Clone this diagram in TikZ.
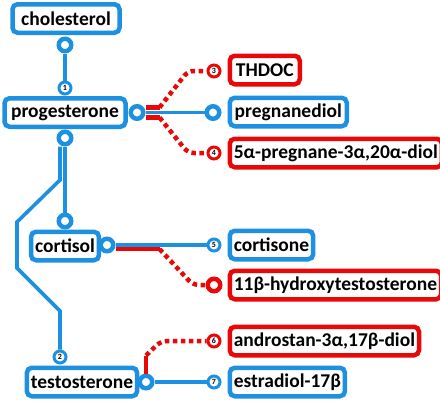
\documentclass[tikz,border=0pt]{standalone}
\usepackage{fontspec}
\setmainfont{Carlito}
\usepackage{tikz}

\definecolor{metroblue}{RGB}{30,144,225}
\definecolor{metrored}{RGB}{232,8,8}

\begin{document}
\begin{tikzpicture}[x=1pt,y=-1pt,
	box/.style={draw,line width=4.5pt,rounded corners=5pt,fill=white,inner xsep=4pt,inner ysep=2pt,
		minimum height=28.5pt,font=\fontsize{19.5}{21}\selectfont\bfseries},
	ring/.style={circle,draw,line width=4.5pt,fill=white,minimum size=12.5pt,inner sep=0pt},
	num/.style={circle,draw,line width=3pt,fill=white,minimum size=12pt,inner sep=0pt,
		font=\fontsize{8}{8}\selectfont\bfseries},
	bline/.style={metroblue,line width=3.6pt},
	rline/.style={metrored,line width=4.5pt},
	rdots/.style={metrored,line width=4.5pt,dash pattern=on 4.5pt off 3.5pt,rounded corners=6pt}]
	%\draw[help lines,step=20] (0,0) grid (440,402);
	\useasboundingbox (0,0) rectangle (440,402);

	% left column
	\node[box,draw=metroblue,minimum width=107pt] (chol) at (66,18.5) {cholesterol};
	\node[box,draw=metroblue,minimum width=121pt] (prog) at (65,112.5) {progesterone};
	\node[box,draw=metroblue,minimum width=65pt] (cort) at (65,246) {cortisol};
	\node[box,draw=metroblue,minimum width=105pt] (test) at (82,382) {testosterone};

	% right column
	\node[box,draw=metrored,anchor=west,minimum width=70pt] (thdoc) at (227.5,70) {THDOC};
	\node[box,draw=metroblue,anchor=west,minimum width=117pt] (pdiol) at (227.5,112) {pregnanediol};
	\node[box,draw=metrored,anchor=west,minimum width=207pt] (adiol) at (227.5,153) {5α-pregnane-3α,20α-diol};
	\node[box,draw=metroblue,anchor=west,minimum width=83pt] (cone) at (227.5,245) {cortisone};
	\node[box,draw=metrored,anchor=west,minimum width=207pt] (hydro) at (227.5,285) {11β-hydroxytestosterone};
	\node[box,draw=metrored,anchor=west,minimum width=188pt] (andro) at (227.5,341) {androstan-3α,17β-diol};
	\node[box,draw=metroblue,anchor=west,minimum width=112pt] (estra) at (227.5,382) {estradiol-17β};

	% stations
	\node[ring,draw=metroblue] (cholB) at (65,45) {};
	\node[num,draw=metroblue] (n1) at (65,88) {1};
	\node[ring,draw=metroblue] (progR) at (137,112.5) {};
	\node[ring,draw=metroblue] (progB) at (65,138) {};
	\node[num,draw=metrored] (n3) at (214,71) {3};
	\node[ring,draw=metroblue] (pdiolL) at (213,112.5) {};
	\node[num,draw=metrored] (n4) at (214,153) {4};
	\node[ring,draw=metroblue] (cortT) at (65,221) {};
	\node[ring,draw=metroblue] (cortR) at (107,245) {};
	\node[num,draw=metroblue] (n5) at (214,245) {5};
	\node[ring,draw=metrored] (hydroL) at (214,285) {};
	\node[num,draw=metrored] (n6) at (214,341) {6};
	\node[num,draw=metroblue] (n2) at (60,357) {2};
	\node[ring,draw=metroblue] (testR) at (146,382) {};
	\node[num,draw=metroblue] (n7) at (214,382) {7};

	\draw[bline] (cholB) -- (n1);
	\draw[bline] (progR) -- (pdiolL);
	\draw[bline] (progB) -- (cortT);
	\draw[bline] ([xshift=-5pt]progB.south) -- (60,180) -- (17,222) -- (17,268) -- (60,311) -- (n2);
	\draw[bline] (cortR) -- (n5);
	\draw[bline] (testR) -- (n7);

	\draw[rline] ([yshift=5pt]progR.east) -- ++(14,0) coordinate (r3);
	\draw[rdots] (r3) -- (188,71) -- (n3);
	\draw[rline] ([yshift=-5pt]progR.east) -- ++(14,0) coordinate (r4);
	\draw[rdots] (r4) -- (188,153) -- (n4);
	\draw[rline] ([yshift=-4pt]cortR.east) -- ++(44,0) coordinate (r11);
	\draw[rdots] (r11) -- (193,285) -- (hydroL);
	\draw[rline] (testR.north) -- ++(0,-18) coordinate (r6);
	\draw[rdots] (r6) -- (161,341) -- (n6);
\end{tikzpicture}
\end{document}
